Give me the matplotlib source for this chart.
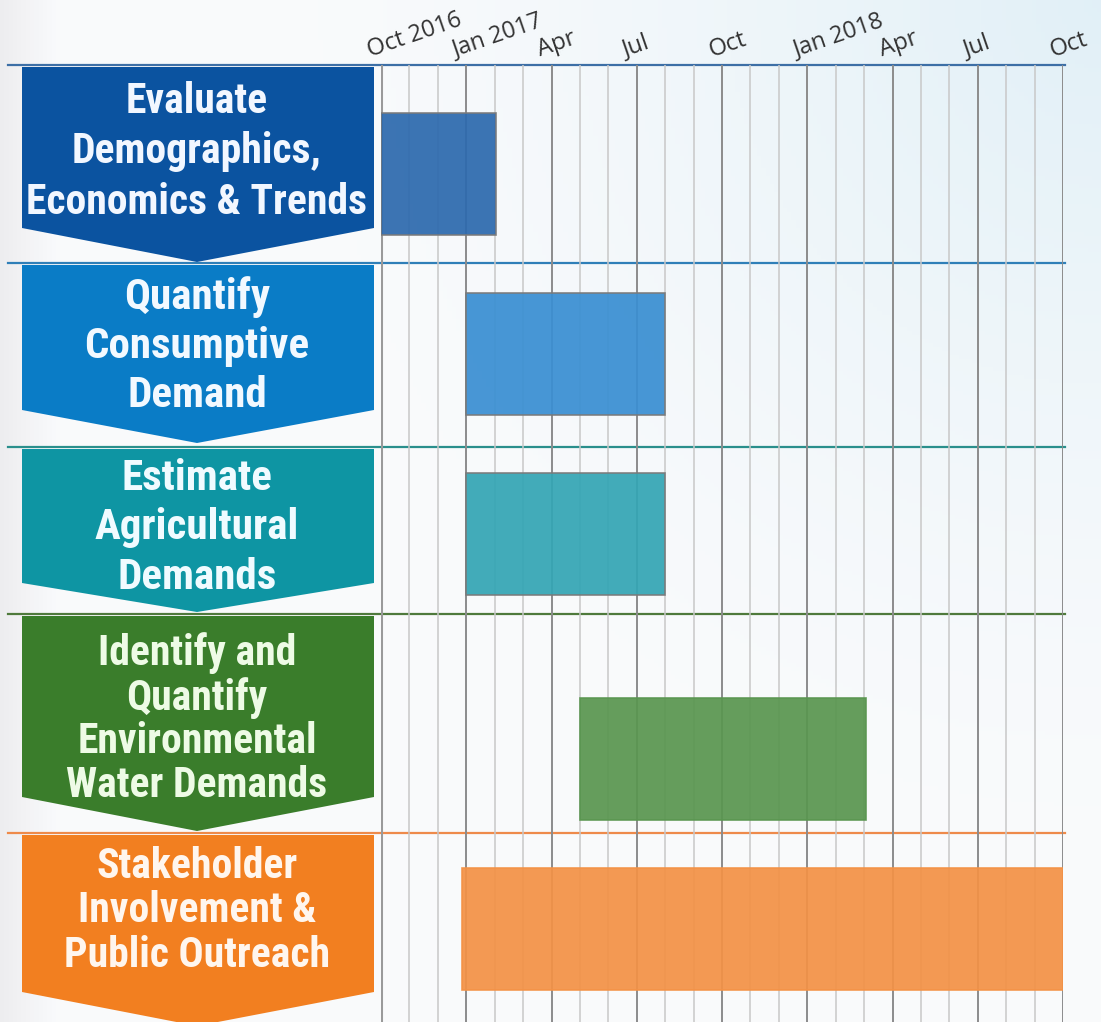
import numpy as np
import matplotlib
matplotlib.use("Agg")
import matplotlib.pyplot as plt
from matplotlib.patches import Polygon
from matplotlib.transforms import ScaledTranslation
from matplotlib import font_manager

# tasks and their schedule, in months counted from Oct 2016
tasks = [
    "Evaluate\nDemographics,\nEconomics & Trends",
    "Quantify\nConsumptive\nDemand",
    "Estimate\nAgricultural\nDemands",
    "Identify and\nQuantify\nEnvironmental\nWater Demands",
    "Stakeholder\nInvolvement &\nPublic Outreach",
]
start_month = [0, 3, 3, 7, 2.85]
end_month = [4.05, 10, 10, 17.05, 24]

tick_months = [0, 3, 6, 9, 12, 15, 18, 21, 24]
tick_labels = ["Oct 2016", "Jan 2017", "Apr", "Jul", "Oct", "Jan 2018", "Apr", "Jul", "Oct"]

# colours
chevron_colors = ["#0b53a0", "#0a7cc6", "#0e95a3", "#3a7d2b", "#f27f20"]
bar_colors = ["#2d6aae", "#3a8fd2", "#34a5b4", "#5a9650", "#f39246"]
line_colors = ["#3d6fa6", "#2f7fb8", "#2a8f8c", "#4f7a3c", "#ee8a4a"]
text_colors = ["#f2f7ff", "#f2f9ff", "#f0fbff", "#eefbe6", "#fff6ee"]

# layout (pixels from the top of the picture)
W, H = 1101, 1022
row_top = [65, 263, 447, 614, 833]
chev_bottom = [228, 410, 583, 797, 992]
chev_tip = [262, 443, 612, 831, 1026]
bar_top = [113, 293, 473, 698, 868]
bar_h = 122
text_mid = [152, 346, 528, 719, 911]
text_size = [30, 31, 31, 30, 30]
text_spacing = [1.31, 1.25, 1.27, 1.08, 1.1]
grid_left, grid_right = 381, 1063

names = {f.name for f in font_manager.fontManager.ttflist}
label_family = [n for n in ["Roboto Condensed", "Noto Sans", "DejaVu Sans"] if n in names]

fig = plt.figure(figsize=(W / 100, H / 100), dpi=100)

# background with a soft gradient
bg = fig.add_axes([0, 0, 1, 1])
bg.set_xlim(0, W)
bg.set_ylim(H, 0)
bg.axis("off")
yy, xx = np.mgrid[0:1:256j, 0:1:256j]
base = np.array([0.978, 0.983, 0.988])
blue = np.array([0.86, 0.93, 0.965])
gray = np.array([0.90, 0.90, 0.905])
d = np.sqrt((xx - 1.0) ** 2 + (yy * 0.9) ** 2)
w_blue = np.clip(1 - d / 0.75, 0, 1) ** 1.4 * 0.8
w_gray = np.clip(1 - xx / 0.05, 0, 1) * 0.6
img = base * (1 - w_blue - w_gray)[..., None] + blue * w_blue[..., None] + gray * w_gray[..., None]
bg.imshow(img, extent=[0, W, H, 0], aspect="auto", zorder=0)

# chevron labels
for i, label in enumerate(tasks):
    pts = [(22, row_top[i] + 2), (374, row_top[i] + 2), (374, chev_bottom[i]),
           (197, chev_tip[i]), (22, chev_bottom[i])]
    bg.add_patch(Polygon(pts, closed=True, facecolor=chevron_colors[i],
                         edgecolor="none", zorder=2))
    bg.text(197, text_mid[i], label, ha="center", va="center",
            fontsize=text_size[i], fontweight="bold", color=text_colors[i],
            family=label_family, fontstretch="condensed",
            linespacing=text_spacing[i], zorder=3)
    bg.plot([8, grid_right + 2], [row_top[i], row_top[i]], color=line_colors[i],
            lw=1.6, zorder=1)

# gantt area
ax = fig.add_axes([grid_left / W, 0, (grid_right - grid_left) / W, (H - row_top[0]) / H])
ax.patch.set_alpha(0)
ax.set_xlim(0, 24)
ax.set_ylim(H, row_top[0])
for s in ax.spines.values():
    s.set_visible(False)

for m in range(25):
    if m == 0:
        ax.axvline(m, color="#9a9a9a", lw=2.2, zorder=1)
    elif m % 3 == 0:
        ax.axvline(m, color="#8c8c8c", lw=1.4, zorder=1)
    else:
        ax.axvline(m, color="#c8c8c8", lw=1.1, zorder=1)

for i in range(len(tasks)):
    ax.barh(bar_top[i] + bar_h / 2, end_month[i] - start_month[i], left=start_month[i],
            height=bar_h, color=bar_colors[i], alpha=0.93,
            edgecolor="#7a7a7a" if i < 3 else bar_colors[i], lw=1.2, zorder=2)

ax.xaxis.tick_top()
ax.set_xticks(tick_months)
ax.set_xticklabels(tick_labels, fontsize=17, color="#333333", family="Open Sans")
ax.set_yticks([])
ax.tick_params(axis="x", length=0, pad=2)
shift = ScaledTranslation(-9 / 100, 0, fig.dpi_scale_trans)
for lab in ax.get_xticklabels():
    lab.set_rotation(19)
    lab.set_ha("left")
    lab.set_va("bottom")
    lab.set_rotation_mode("anchor")
    lab.set_transform(lab.get_transform() + shift)

fig.savefig("out.png", dpi=100)
